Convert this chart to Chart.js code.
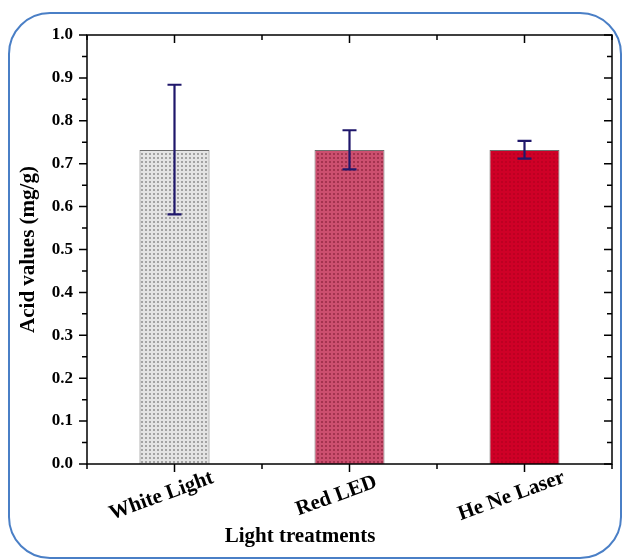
<!DOCTYPE html>
<html>
<head>
<meta charset="utf-8">
<script src="https://cdn.jsdelivr.net/npm/chart.js@4.4.1/dist/chart.umd.min.js"></script>
<style>
  html, body { margin: 0; padding: 0; background: #fff; }
  #wrap { position: relative; width: 623px; height: 560px; }
  #frame {
    position: absolute; left: 8px; top: 12px; right: 1px; bottom: 1px;
    border: 2px solid #4a7fc6; border-radius: 42px; box-sizing: border-box;
  }
  canvas { position: absolute; left: 0; top: 0; }
</style>
</head>
<body>
<div id="wrap">
  <div id="frame"></div>
  <canvas id="chart" width="623" height="560"></canvas>
</div>
<script>
const categories = ['White Light', 'Red LED', 'He Ne Laser'];
const acidValues = [0.732, 0.732, 0.732];
const errPlus = [0.152, 0.046, 0.021];
const errMinus = [0.150, 0.045, 0.020];
const yTicks = [0, 0.1, 0.2, 0.3, 0.4, 0.5, 0.6, 0.7, 0.8, 0.9, 1.0];
const xTitle = 'Light treatments';

const FONT = '"Liberation Serif", "Times New Roman", serif';

// small dotted tiles like the origin fill patterns
function makePattern(base, dot, size) {
  const c = document.createElement('canvas');
  c.width = size; c.height = size;
  const g = c.getContext('2d');
  g.fillStyle = base;
  g.fillRect(0, 0, size, size);
  g.fillStyle = dot;
  g.fillRect(1, 1, 2, 2);
  return g.createPattern(c, 'repeat');
}

const ctx = document.getElementById('chart').getContext('2d');
const fills = [
  makePattern('#e4e4e4', '#a3a3a3', 4),
  makePattern('#cc4f6f', '#a3334f', 4),
  makePattern('#cf0027', '#bd0022', 4)
];

const errorBars = {
  id: 'errorBars',
  afterDatasetsDraw(chart) {
    const { ctx, scales: { x, y } } = chart;
    ctx.save();
    ctx.strokeStyle = '#1f176b';
    ctx.lineWidth = 2.2;
    acidValues.forEach((v, i) => {
      const px = x.getPixelForValue(i);
      const top = y.getPixelForValue(v + errPlus[i]);
      const bot = y.getPixelForValue(v - errMinus[i]);
      ctx.beginPath();
      ctx.moveTo(px, top); ctx.lineTo(px, bot);
      ctx.moveTo(px - 7, top); ctx.lineTo(px + 7, top);
      ctx.moveTo(px - 7, bot); ctx.lineTo(px + 7, bot);
      ctx.stroke();
    });
    ctx.restore();
  }
};

const frameTicks = {
  id: 'frameTicks',
  afterDraw(chart) {
    const { ctx, chartArea: a, scales: { x, y } } = chart;
    ctx.save();
    ctx.strokeStyle = '#000';
    ctx.lineWidth = 1.5;
    ctx.strokeRect(a.left, a.top, a.right - a.left, a.bottom - a.top);
    ctx.beginPath();
    // y ticks: outward on the left, inward on the right
    for (let k = 0; k <= 20; k++) {
      const py = y.getPixelForValue(k * 0.05);
      const len = k % 2 === 0 ? 8 : 5;
      ctx.moveTo(a.left - len, py); ctx.lineTo(a.left, py);
      ctx.moveTo(a.right - len, py); ctx.lineTo(a.right, py);
    }
    // x ticks at the bars and between them
    for (let k = 0; k <= categories.length * 2; k++) {
      const px = x.getPixelForValue(k / 2 - 0.5);
      const len = k % 2 === 1 ? 8 : 5;
      ctx.moveTo(px, a.bottom); ctx.lineTo(px, a.bottom + len);
      ctx.moveTo(px, a.top); ctx.lineTo(px, a.top + len);
    }
    ctx.stroke();

    // rotated category labels
    ctx.fillStyle = '#000';
    ctx.font = 'bold 21px ' + FONT;
    ctx.textAlign = 'center';
    ctx.textBaseline = 'middle';
    categories.forEach((c, i) => {
      ctx.save();
      ctx.translate(x.getPixelForValue(i) - 13, 496);
      ctx.rotate(-20 * Math.PI / 180);
      ctx.fillText(c, 0, 0);
      ctx.restore();
    });
    // axis title sits left of centre in the original
    ctx.fillText(xTitle, 300, 537);
    ctx.restore();
  }
};

new Chart(ctx, {
  type: 'bar',
  data: {
    labels: categories,
    datasets: [{
      data: acidValues,
      backgroundColor: fills,
      borderColor: '#6e6e6e',
      borderWidth: 1,
      categoryPercentage: 1,
      barPercentage: 0.4
    }]
  },
  options: {
    responsive: false,
    animation: false,
    layout: { padding: { top: 35, right: 11, left: 0, bottom: 0 } },
    plugins: { legend: { display: false }, tooltip: { enabled: false } },
    scales: {
      x: {
        grid: { display: false, drawTicks: false },
        border: { display: false },
        ticks: { display: false },
        afterFit(s) { s.height = 96; }
      },
      y: {
        min: 0,
        max: 1,
        afterBuildTicks(s) { s.ticks = yTicks.map(v => ({ value: v })); },
        grid: { display: false, drawTicks: false },
        border: { display: false },
        ticks: {
          color: '#000',
          padding: 14,
          font: { family: FONT, size: 17, weight: 'bold' },
          callback: v => v.toFixed(1)
        },
        afterFit(s) { s.width = 87; },
        title: {
          display: true,
          text: 'Acid values (mg/g)',
          color: '#000',
          font: { family: FONT, size: 21, weight: 'bold' },
          padding: { top: 16, bottom: 0 }
        }
      }
    }
  },
  plugins: [errorBars, frameTicks]
});
</script>
</body>
</html>
